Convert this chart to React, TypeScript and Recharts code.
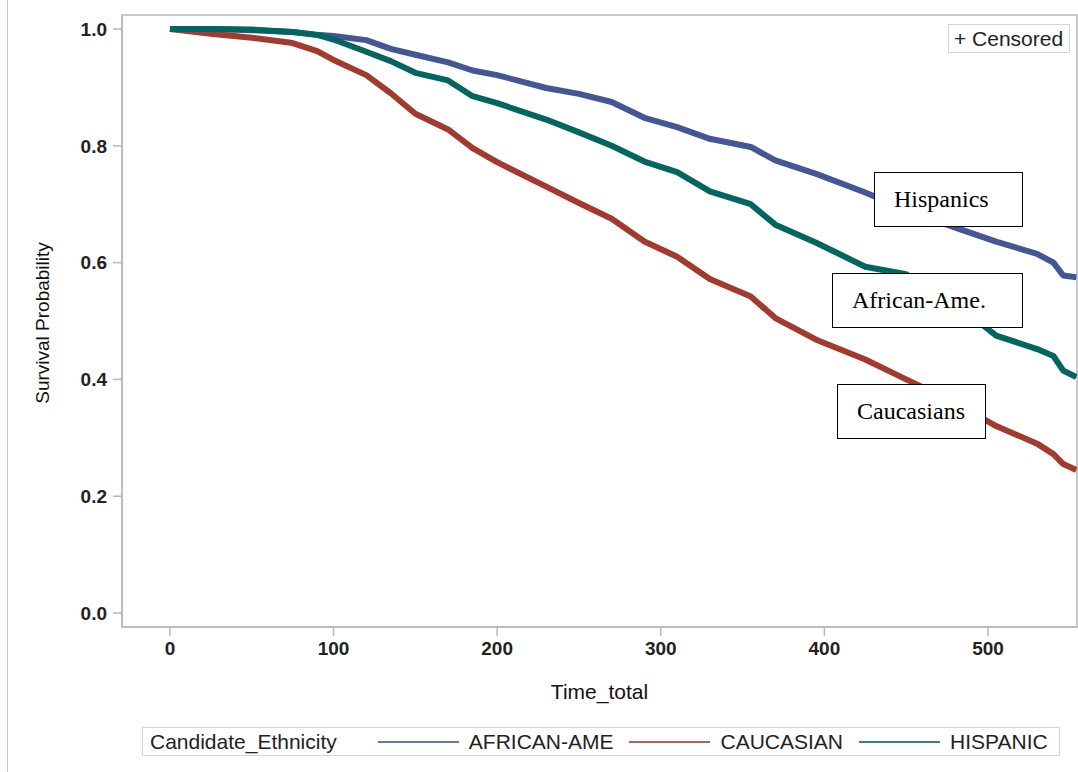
import { LineChart, Line, XAxis, YAxis, ReferenceArea } from "recharts";

// time grid (days) and survival estimates
const times = [0, 25, 50, 75, 90, 100, 120, 135, 150, 170, 185, 200, 230, 250, 270, 290, 310, 330, 355, 370, 395, 425, 450, 480, 505, 530, 540, 546, 554];
const africanAme = [1.0, 1.0, 0.998, 0.995, 0.99, 0.988, 0.981, 0.966, 0.956, 0.943, 0.929, 0.921, 0.899, 0.889, 0.875, 0.848, 0.832, 0.812, 0.798, 0.775, 0.752, 0.72, 0.69, 0.66, 0.636, 0.615, 0.6, 0.578, 0.575];
const caucasian = [1.0, 0.992, 0.985, 0.976, 0.962, 0.947, 0.921, 0.89, 0.855, 0.828, 0.796, 0.772, 0.73, 0.702, 0.675, 0.636, 0.61, 0.572, 0.542, 0.505, 0.468, 0.434, 0.4, 0.36, 0.32, 0.29, 0.272, 0.255, 0.245];
const hispanic = [1.0, 1.0, 0.999, 0.995, 0.99, 0.982, 0.961, 0.945, 0.925, 0.912, 0.885, 0.873, 0.845, 0.823, 0.8, 0.773, 0.755, 0.722, 0.7, 0.665, 0.634, 0.593, 0.58, 0.53, 0.475, 0.452, 0.44, 0.415, 0.404];

const xTicks = [0, 100, 200, 300, 400, 500];
const yTicks = [0, 0.2, 0.4, 0.6, 0.8, 1.0];

const seriesNames = ["AFRICAN-AME", "CAUCASIAN", "HISPANIC"];
const seriesKeys = ["afr", "cau", "his"];
const seriesColors = ["#445694", "#A23A2E", "#01665E"];

const rows = times.map((t, i) => ({ time: t, afr: africanAme[i], cau: caucasian[i], his: hispanic[i] }));

const SANS = '"Liberation Sans", Arial, sans-serif';
const SERIF = '"Liberation Serif", "Times New Roman", serif';
const AXIS = "#B4B8BC";

function NoteBox({ left, top, width, height, text, pad }: { left: number; top: number; width: number; height: number; text: string; pad: number }) {
  return (
    <div
      style={{
        position: "absolute", left, top, width, height, boxSizing: "border-box",
        border: "1.5px solid #000", background: "#fff", fontFamily: SERIF, fontSize: 24,
        color: "#000", paddingLeft: pad, display: "flex", alignItems: "center",
      }}
    >
      {text}
    </div>
  );
}

export default function App() {
  return (
    <div style={{ position: "absolute", left: 0, top: 0, width: 1078, height: 772, background: "#fff" }}>
      <div style={{ position: "absolute", left: 7, top: 0, width: 1, height: 772, background: "#C8C8C8" }} />
      <LineChart width={1078} height={772} data={rows} margin={{ top: 15, right: 1, bottom: 85, left: 0 }}>
        <XAxis
          dataKey="time"
          type="number"
          domain={[-29.3, 554.4]}
          allowDataOverflow
          ticks={xTicks}
          height={60}
          stroke={AXIS}
          strokeWidth={1.5}
          tickSize={9}
          tickMargin={6}
          tick={{ fill: "#222", fontSize: 19, fontWeight: 700, fontFamily: SANS }}
          label={{ value: "Time_total", position: "insideBottom", offset: -12, fill: "#111", fontSize: 21, fontFamily: SANS }}
        />
        <YAxis
          type="number"
          domain={[-0.024, 1.024]}
          allowDataOverflow
          ticks={yTicks}
          width={122}
          stroke={AXIS}
          strokeWidth={1.5}
          tickSize={9}
          tickMargin={6}
          tickFormatter={(v: number) => v.toFixed(1)}
          tick={{ fill: "#222", fontSize: 19, fontWeight: 700, fontFamily: SANS }}
          label={{
            content: () => (
              <text
                transform="translate(42,323) rotate(-90)"
                textAnchor="middle"
                dominantBaseline="central"
                fill="#111"
                fontSize={19}
                fontFamily={SANS}
              >
                Survival Probability
              </text>
            ),
          }}
        />
        <ReferenceArea x1={-29.3} x2={554.4} y1={-0.024} y2={1.024} fill="none" stroke={AXIS} strokeWidth={1.5} ifOverflow="visible" />
        {seriesKeys.map((k, i) => (
          <Line
            key={k}
            type="linear"
            dataKey={k}
            name={seriesNames[i]}
            stroke={seriesColors[i]}
            strokeWidth={6}
            strokeLinejoin="round"
            dot={false}
            isAnimationActive={false}
          />
        ))}
      </LineChart>

      {/* censored marker legend */}
      <div
        style={{
          position: "absolute", left: 948, top: 24, width: 122, height: 29, boxSizing: "border-box",
          border: "1.5px solid #D4D4D4", background: "#fff", fontFamily: SANS, fontSize: 21, color: "#222",
          display: "flex", alignItems: "center", paddingLeft: 5,
        }}
      >
        + Censored
      </div>

      <NoteBox left={874} top={172} width={149} height={55} text="Hispanics" pad={19} />
      <NoteBox left={832} top={273} width={191} height={55} text="African-Ame." pad={19} />
      <NoteBox left={837} top={384} width={149} height={55} text="Caucasians" pad={19} />

      {/* group legend */}
      <div
        style={{
          position: "absolute", left: 142, top: 727, width: 918, height: 29, boxSizing: "border-box",
          border: "1.5px solid #D4D4D4", fontFamily: SANS, fontSize: 21, color: "#222",
          display: "flex", alignItems: "center", paddingLeft: 7, whiteSpace: "nowrap",
        }}
      >
        <span>Candidate_Ethnicity</span>
        {seriesNames.map((n, i) => (
          <span key={n} style={{ display: "flex", alignItems: "center", marginLeft: i === 0 ? 41 : 16 }}>
            <span style={{ display: "inline-block", width: 81, height: 2, background: seriesColors[i], opacity: 0.8 }} />
            <span style={{ marginLeft: 10 }}>{n}</span>
          </span>
        ))}
      </div>
    </div>
  );
}
